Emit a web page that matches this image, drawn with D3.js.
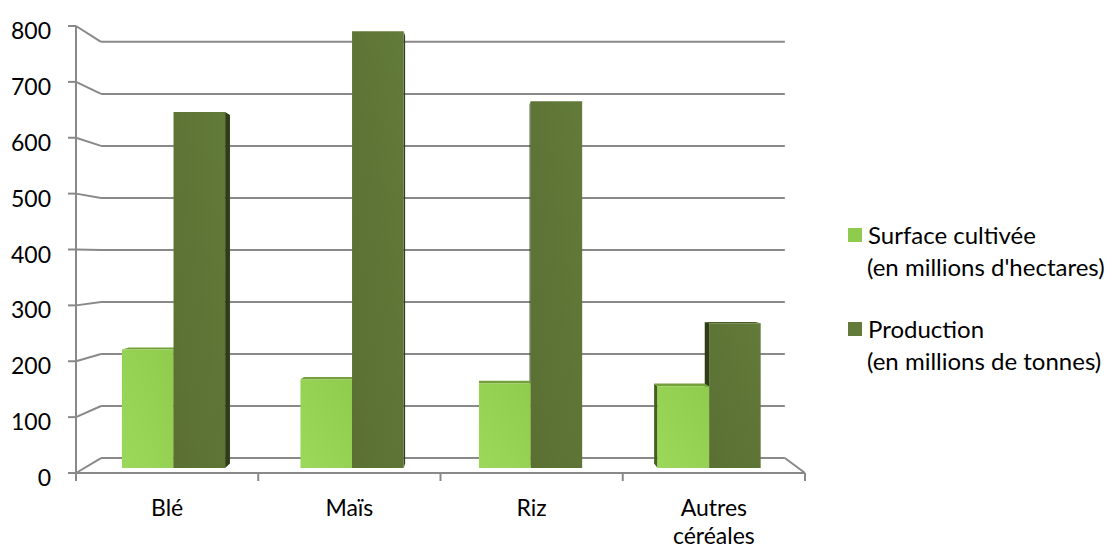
<!DOCTYPE html>
<html>
<head>
<meta charset="utf-8">
<script src="https://cdn.jsdelivr.net/npm/d3@7"></script>
<style>
  html, body { margin: 0; padding: 0; background: #fff; }
  svg text { font-family: Lato, "Open Sans", sans-serif; fill: #000; }
</style>
</head>
<body>
<div id="chart"></div>
<script>
(function() {
"use strict";

const categories = [["Blé"], ["Maïs"], ["Riz"], ["Autres", "céréales"]];
const seriesNames = ["Surface cultivée", "Production"];
const seriesUnits = ["(en millions d'hectares)", "(en millions de tonnes)"];
const surface = [217, 162, 155, 150];
const production = [652, 800, 672, 265];
const yTicks = [0, 100, 200, 300, 400, 500, 600, 700, 800];

const W = 1120, H = 551;
const svg = d3.select("#chart").append("svg")
              .attr("width", W)
              .attr("height", H);

// front plane frame, back wall is the same frame pushed in depth
const x0 = d3.scaleBand().domain(d3.range(categories.length)).range([76, 805]);
const y = d3.scaleLinear().domain([0, 800]).range([473, 26]);
const bw = x0.bandwidth();
const x1 = d3.scaleBand().domain(d3.range(seriesNames.length)).range([bw * 0.211, bw * 0.789]);

// simple perspective towards a vanishing point
const VX = 480, VY = 256;
const P = (x, yy, z) => {
  const sx = 1 - 0.062 * z, sy = 1 - 0.069 * z;
  return [VX + sx * (x - VX), VY + sy * (yy - VY)];
};
const line = d3.line();
const GRID = "#898989";

const g = svg.append("g");

// back wall gridlines with the diagonals to the axis
yTicks.forEach(t => {
  g.append("path").attr("d", line([P(76, y(t), 1), P(805, y(t), 1)]))
   .attr("stroke", GRID).attr("stroke-width", 2).attr("fill", "none");
  g.append("path").attr("d", line([P(76, y(t), 0), P(76, y(t), 1)]))
   .attr("stroke", GRID).attr("stroke-width", 2).attr("fill", "none");
});
// floor right edge
g.append("path").attr("d", line([P(805, y(0), 1), P(805, y(0), 0)]))
 .attr("stroke", GRID).attr("stroke-width", 2).attr("fill", "none");

// bars
const colors = [
  { front: ["#9cd95b", "#8fcb4c"], top: "#74a03a", side: "#44601c" },
  { front: ["#5b6f33", "#627a3a"], top: "#4a5c26", side: "#2f3c16" }
];
const defs = svg.append("defs");
colors.forEach((c, i) => {
  const grad = defs.append("linearGradient").attr("id", "grad" + i)
                   .attr("x1", 0).attr("y1", 1).attr("x2", 1).attr("y2", 0);
  grad.append("stop").attr("offset", 0).attr("stop-color", c.front[0]);
  grad.append("stop").attr("offset", 1).attr("stop-color", c.front[1]);
});

const Z0 = 0.33, Z1 = 0.63;
const bars = [];
categories.forEach((c, ci) => {
  [surface, production].forEach((s, si) => {
    const xa = x0(ci) + x1(si), xb = xa + x1.bandwidth();
    bars.push({ xa, xb, v: s[ci], si });
  });
});
bars.sort((a, b) => Math.abs((b.xa + b.xb) / 2 - VX) - Math.abs((a.xa + a.xb) / 2 - VX));

const poly = pts => line(pts) + "Z";
bars.forEach(b => {
  const c = colors[b.si];
  const yb = y(0), yt = y(b.v);
  if (b.xb < VX) {
    g.append("path").attr("d", poly([P(b.xb, yt, Z0), P(b.xb, yt, Z1), P(b.xb, yb, Z1), P(b.xb, yb, Z0)]))
     .attr("fill", c.side);
  }
  if (b.xa > VX) {
    g.append("path").attr("d", poly([P(b.xa, yt, Z0), P(b.xa, yt, Z1), P(b.xa, yb, Z1), P(b.xa, yb, Z0)]))
     .attr("fill", c.side);
  }
  if (P(0, yt, Z0)[1] > VY) {
    g.append("path").attr("d", poly([P(b.xa, yt, Z0), P(b.xb, yt, Z0), P(b.xb, yt, Z1), P(b.xa, yt, Z1)]))
     .attr("fill", c.top);
  }
  g.append("path").attr("d", poly([P(b.xa, yt, Z0), P(b.xb, yt, Z0), P(b.xb, yb, Z0), P(b.xa, yb, Z0)]))
   .attr("fill", "url(#grad" + b.si + ")");
});

// front floor line, vertical axis and ticks
g.append("path").attr("d", line([[76, y(0)], [805, y(0)]]))
 .attr("stroke", GRID).attr("stroke-width", 2).attr("fill", "none");
g.append("path").attr("d", line([[76, y(800)], [76, y(0) + 8]]))
 .attr("stroke", GRID).attr("stroke-width", 2).attr("fill", "none");
yTicks.forEach(t => {
  g.append("path").attr("d", line([[68, y(t)], [76, y(t)]]))
   .attr("stroke", GRID).attr("stroke-width", 2);
  g.append("text").attr("x", 51).attr("y", y(t) + 4)
   .attr("text-anchor", "end").attr("dominant-baseline", "central")
   .attr("font-size", 23).text(t);
});
d3.range(categories.length + 1).forEach(i => {
  const xx = 76 + bw * i;
  g.append("path").attr("d", line([[xx, y(0)], [xx, y(0) + 8]]))
   .attr("stroke", GRID).attr("stroke-width", 2);
});

// category labels
categories.forEach((c, ci) => {
  const t = g.append("text").attr("text-anchor", "middle").attr("font-size", 23);
  c.forEach((s, k) => {
    t.append("tspan").attr("x", x0(ci) + bw / 2).attr("y", 516 + k * 28).text(s);
  });
});

// legend
const legendY = [228, 322];
seriesNames.forEach((s, i) => {
  const lg = svg.append("g").attr("transform", `translate(848,${legendY[i]})`);
  lg.append("rect").attr("width", 14).attr("height", 14).attr("fill", colors[i].front[1]);
  const t = lg.append("text").attr("font-size", 24);
  t.append("tspan").attr("x", 20).attr("y", 16).text(s);
  t.append("tspan").attr("x", 19).attr("y", 48).text(seriesUnits[i]);
});

})();
</script>
</body>
</html>
